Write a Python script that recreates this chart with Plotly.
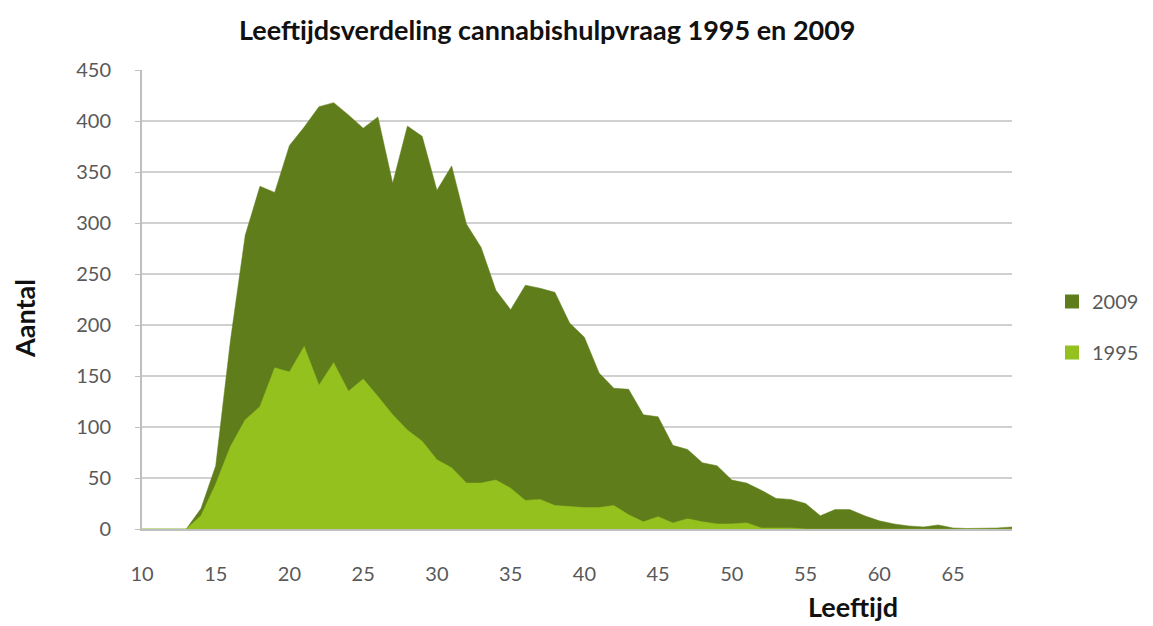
import plotly.graph_objects as go

ages = list(range(10, 70))
v2009 = [0, 0, 0, 0, 20, 62, 185, 288, 336, 330,
         376, 394, 414, 418, 406, 393, 404, 339, 395, 385,
         332, 356, 299, 276, 234, 215, 239, 236, 232, 202,
         188, 153, 138, 137, 112, 110, 82, 78, 65, 62,
         48, 45, 38, 30, 29, 25, 13, 19, 19, 13,
         8, 5, 3, 2, 4, 1, 0.5, 0.5, 1, 2]
v1995 = [0, 0, 0, 0, 13, 44, 81, 107, 120, 158,
         154, 179, 141, 163, 135, 147, 130, 112, 97, 86,
         68, 60, 45, 45, 48, 40, 28, 29, 23, 22,
         21, 21, 23, 14, 7, 12, 6, 10, 7, 5,
         5, 6, 1, 1, 1, 0, 0, 0, 0, 0,
         0, 0, 0, 0, 0, 0, 0, 0, 0, 0]
x_ticks = [10, 15, 20, 25, 30, 35, 40, 45, 50, 55, 60, 65]
y_ticks = [0, 50, 100, 150, 200, 250, 300, 350, 400, 450]

DARK = "#5f7e1b"
LIGHT = "#95c11f"
FONT = "Lato"

# page body has an 8px margin; plot area targeted at page (142,70)-(1012,529)
OFF = 8
L, T, PW, PH = 142 - OFF, 70 - OFF, 870, 459
W, H = 1153 - OFF, 626 - OFF

fig = go.Figure()
fig.add_trace(go.Scatter(x=ages, y=v2009, mode="lines", fill="tozeroy",
                         line=dict(color=DARK, width=0.5), fillcolor=DARK,
                         showlegend=False, hoverinfo="x+y", name="2009"))
fig.add_trace(go.Scatter(x=ages, y=v1995, mode="lines", fill="tozeroy",
                         line=dict(color=LIGHT, width=0.5), fillcolor=LIGHT,
                         showlegend=False, hoverinfo="x+y", name="1995"))
# legend entries
fig.add_trace(go.Scatter(x=[None], y=[None], mode="markers", name="2009",
                         legendgroup="a",
                         marker=dict(symbol="square", size=14, color=DARK)))
fig.add_trace(go.Scatter(x=[None], y=[None], mode="markers", name="1995",
                         legendgroup="b",
                         marker=dict(symbol="square", size=14, color=LIGHT)))

def px(xp):
    return (xp - 142) / PW

def py(yp):
    return (529 - yp) / PH

fig.update_layout(
    width=W, height=H,
    margin=dict(l=L, r=W - L - PW, t=T, b=H - T - PH, autoexpand=False),
    paper_bgcolor="white", plot_bgcolor="white",
    font=dict(family=FONT, color="#595959", size=20),
    legend=dict(x=px(1052), xanchor="left", y=py(327), yanchor="middle",
                xref="paper", yref="paper",
                font=dict(size=20, color="#595959", family=FONT),
                tracegroupgap=22, itemwidth=30, bgcolor="rgba(0,0,0,0)"),
    annotations=[
        dict(text="<b>Leeftijdsverdeling cannabishulpvraag 1995 en 2009</b>",
             xref="paper", yref="paper", x=px(547), y=py(30),
             xanchor="center", yanchor="middle", showarrow=False,
             font=dict(size=27, color="#111111", family=FONT)),
        dict(text="<b>Aantal</b>", xref="paper", yref="paper",
             x=px(24), y=py(318), textangle=-90,
             xanchor="center", yanchor="middle", showarrow=False,
             font=dict(size=27, color="#111111", family=FONT)),
        dict(text="<b>Leeftijd</b>", xref="paper", yref="paper",
             x=px(853), y=py(606),
             xanchor="center", yanchor="middle", showarrow=False,
             font=dict(size=27, color="#111111", family=FONT)),
    ],
)
fig.update_xaxes(range=[10, 69], tickvals=x_ticks, showgrid=False,
                 showline=True, linecolor="#bfbfbf", linewidth=2,
                 zeroline=False, ticks="", ticklabelstandoff=26, automargin=False,
                 tickfont=dict(size=20, color="#595959", family=FONT))
fig.update_yaxes(range=[0, 450], tickvals=y_ticks, showgrid=True,
                 gridcolor="#d0d0d0", gridwidth=2,
                 showline=True, linecolor="#bfbfbf", linewidth=2,
                 zeroline=False, ticks="outside", ticklen=5, tickcolor="#bfbfbf",
                 ticklabelstandoff=20, automargin=False,
                 tickfont=dict(size=20, color="#595959", family=FONT))

fig.write_html("out.html")
